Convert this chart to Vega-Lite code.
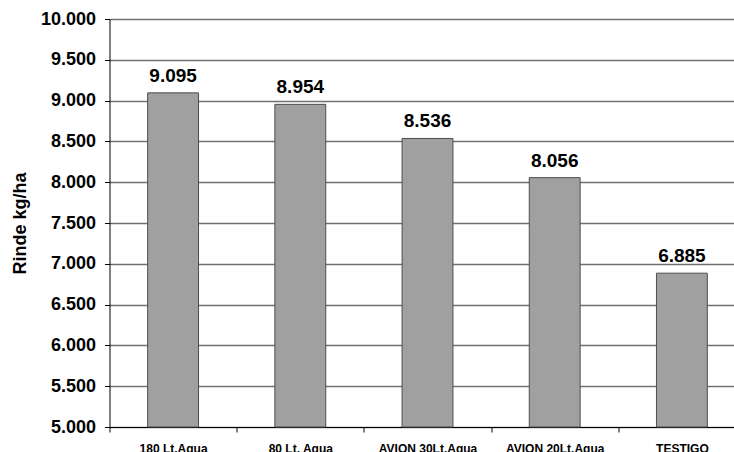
{
  "$schema": "https://vega.github.io/schema/vega-lite/v6.json",
  "width": 636,
  "height": 408,
  "autosize": {"type": "none"},
  "padding": {"left": 109.5, "top": 19, "right": 0, "bottom": 25},
  "background": "white",
  "config": {
    "view": {"stroke": null},
    "locale": {"number": {"decimal": ",", "thousands": ".", "grouping": [3], "currency": ["", ""]}},
    "font": "Liberation Sans"
  },
  "data": {
    "values": [
      {"tratamiento": "180 Lt.Agua", "rinde": 9095},
      {"tratamiento": "80 Lt. Agua", "rinde": 8954},
      {"tratamiento": "AVION 30Lt.Agua", "rinde": 8536},
      {"tratamiento": "AVION 20Lt.Agua", "rinde": 8056},
      {"tratamiento": "TESTIGO", "rinde": 6885}
    ]
  },
  "encoding": {
    "x": {
      "field": "tratamiento",
      "type": "nominal",
      "sort": null,
      "scale": {"paddingInner": 0.6, "paddingOuter": 0.3},
      "axis": {
        "title": null,
        "labelAngle": 0,
        "labelFont": "Liberation Sans",
        "labelFontSize": 12,
        "labelFontWeight": "bold",
        "labelColor": "black",
        "labelPadding": 11,
        "tickOffset": -63.6,
        "labelOffset": 63.6,
        "tickSize": 5,
        "tickColor": "black",
        "domainColor": "black",
        "domainWidth": 1
      }
    },
    "y": {
      "field": "rinde",
      "type": "quantitative",
      "scale": {"domain": [5000, 10000], "zero": false, "nice": false},
      "axis": {
        "title": "Rinde kg/ha",
        "titleFont": "Liberation Sans",
        "titleFontSize": 18,
        "titleFontWeight": "bold",
        "titleColor": "black",
        "titlePadding": 11,
        "values": [5000, 5500, 6000, 6500, 7000, 7500, 8000, 8500, 9000, 9500, 10000],
        "format": ",.0f",
        "labelFont": "Liberation Sans",
        "labelFontSize": 18,
        "labelFontWeight": "bold",
        "labelColor": "black",
        "labelPadding": 9,
        "tickSize": 5,
        "tickColor": "black",
        "domainColor": "black",
        "grid": true,
        "gridColor": "#707070",
        "gridWidth": 1.3
      }
    }
  },
  "layer": [
    {
      "mark": {"type": "bar", "fill": "#a0a0a0", "stroke": "#4d4d4d", "strokeWidth": 1},
      "encoding": {"y2": {"datum": 5000}}
    },
    {
      "mark": {"type": "text", "baseline": "alphabetic", "dy": -11, "fontSize": 19, "fontWeight": "bold", "font": "Liberation Sans", "color": "black"},
      "encoding": {"text": {"field": "rinde", "type": "quantitative", "format": ",.0f"}}
    }
  ]
}
